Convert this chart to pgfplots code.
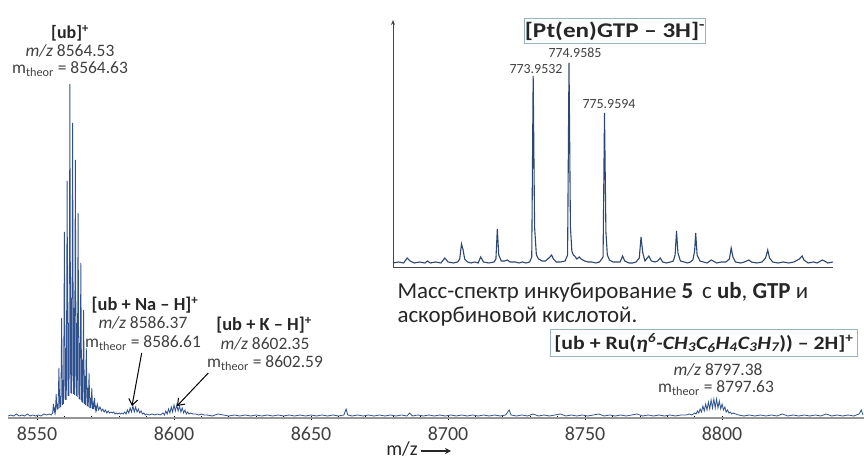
\documentclass[border=0pt]{standalone}
\usepackage{pgfplots}
\pgfplotsset{compat=1.18}
\usetikzlibrary{arrows.meta}
\usepackage{graphicx}
\usepackage{fontspec}
\setmainfont{Carlito}
\definecolor{spec}{RGB}{47,82,143}
\definecolor{specin}{RGB}{45,70,115}
\definecolor{txt}{RGB}{64,64,64}
\definecolor{txtd}{RGB}{38,38,38}
\definecolor{boxc}{RGB}{150,180,196}
\newcommand{\fs}[1]{\fontsize{#1}{#1}\selectfont}
\begin{document}
\begin{tikzpicture}[x=1bp,y=1bp]
\path[use as bounding box] (0,0) rectangle (864,461);
\begin{axis}[at={(8bp,43bp)}, anchor=south west, scale only axis,
  width=856bp, height=418bp,
  xmin=8539.42, xmax=8851.8, ymin=0, ymax=418,
  axis x line*=bottom, axis y line=none,
  xtick={8550,8600,8650,8700,8750,8800}, minor x tick num=4, ytick=\empty,
  x axis line style={draw={rgb,255:red,150;green,150;blue,150}, line width=1.8bp},
  major tick length=4bp, minor tick length=3bp, tick align=center,
  every tick/.style={black, line width=0.7bp},
  /pgf/number format/assume math mode=true,
  xticklabel style={font=\fs{20}, text=txt, /pgf/number format/1000 sep={}, yshift=-3bp},
]
\addplot[spec, line width=0.8bp] coordinates {
(8539.5,2) (8540.5,3) (8541.5,2) (8542.5,4) (8543.5,2) (8544.5,3) (8545.5,2) (8546.5,4) (8547.5,2) (8548.5,3) (8549.5,2) (8550.5,3) (8551.5,2) (8552.5,4) (8553.5,3) (8554.5,4) (8555.2,3)
(8555.7,5) (8556.0,14) (8556.3,6) (8556.5,9) (8556.7,6)
(8557.0,24) (8557.3,8) (8557.5,14) (8557.7,9)
(8558.0,50) (8558.3,10) (8558.5,22) (8558.7,11)
(8559.0,100) (8559.3,13) (8559.5,38) (8559.7,14)
(8560.0,186) (8560.3,18) (8560.5,70) (8560.7,18)
(8561.0,237) (8561.3,22) (8561.5,95) (8561.7,22)
(8562.0,334) (8562.3,25) (8562.5,120) (8562.7,24)
(8563.0,295) (8563.3,24) (8563.5,110) (8563.7,23)
(8564.0,258) (8564.3,22) (8564.5,95) (8564.7,21)
(8565.0,205) (8565.3,19) (8565.5,75) (8565.7,18)
(8566.0,155) (8566.3,16) (8566.5,58) (8566.7,15)
(8567.0,108) (8567.3,14) (8567.5,42) (8567.7,13)
(8568.0,70) (8568.3,12) (8568.5,30) (8568.7,11)
(8569.0,45) (8569.3,10) (8569.5,20) (8569.7,10)
(8570.0,30) (8570.3,9) (8570.5,14) (8570.7,9)
(8571.0,20) (8571.3,8) (8571.5,11) (8571.7,8)
(8572.0,14) (8572.5,8) (8573.0,11) (8573.5,7) (8574.0,9)
(8574.5,6) (8575,8) (8575.5,5) (8576,7) (8576.5,5) (8577,6) (8577.5,5) (8578,6) (8578.5,4) (8579,5) (8579.5,4) (8580,5) (8580.5,4) (8581,5) (8581.5,4)
(8582,6) (8582.5,4) (8583,8) (8583.5,5) (8584,10) (8584.5,6) (8585,12) (8585.5,6) (8586,11) (8586.5,6) (8587,9) (8587.5,5) (8588,7) (8588.5,4) (8589,5) (8589.5,3) (8590,4) (8591,3) (8592,4) (8593,3) (8594,4) (8595,3)
(8596,5) (8596.5,3) (8597,7) (8597.5,4) (8598,9) (8598.5,5) (8599,11) (8599.5,6) (8600,13) (8600.5,7) (8601,13) (8601.5,7) (8602,12) (8602.5,6) (8603,10) (8603.5,5) (8604,8) (8604.5,4) (8605,6) (8605.5,4) (8606,5) (8607,4) (8608,4) (8609,3) (8610,4) (8611,3) (8612,3)
(8614,2) (8616,4) (8618,3) (8620,2) (8622,3) (8624,2) (8626,3) (8628,2) (8630,3) (8632,2) (8634,3) (8636,2) (8638,3) (8640,2) (8642,3) (8644,2) (8646,3) (8648,2) (8650,3) (8652,2) (8654,3) (8656,2) (8658,3) (8660,2) (8662,3) (8662.8,9) (8663.4,3) (8665,2) (8667,3) (8669,2) (8671,3) (8673,2) (8675,3) (8677,2) (8679,3) (8681,2) (8683,3) (8685,2) (8686,5) (8687,2) (8689,3) (8691,2) (8693,3) (8695,2) (8697,3) (8699,2) (8701,3) (8703,2) (8705,3) (8707,2) (8709,3) (8711,2) (8713,3) (8715,2) (8717,3) (8719,2) (8721,3) (8722.3,8) (8723,3) (8725,2) (8727,3) (8729,2) (8731,4) (8733,2) (8735,3) (8737,2) (8739,3) (8741,4) (8743,2) (8745,3) (8747,2) (8749,3) (8751,2) (8753,3) (8755,4) (8757,2) (8759,3) (8761,2) (8763,3) (8765,2) (8767,3) (8769,4) (8771,2) (8773,3) (8775,2) (8777,3) (8779,2) (8781,3) (8783,2) (8785,3) (8787,3) (8788,4) (8789,3)
(8790,5) (8790.5,4) (8791,7) (8791.5,5) (8792,9) (8792.5,6) (8793,12) (8793.5,7) (8794,14) (8794.5,8) (8795,16) (8795.5,9) (8796,18) (8796.5,10) (8797,19) (8797.5,10) (8798,19) (8798.5,10) (8799,17) (8799.5,9) (8800,14) (8800.5,8) (8801,11) (8801.5,6) (8802,8) (8802.5,5) (8803,6) (8803.5,4) (8804,5) (8805,4) (8806,3)
(8808,2) (8810,3) (8812,2) (8814,3) (8816,2) (8818,3) (8820,2) (8822,4) (8824,2) (8826,3) (8828,2) (8830,3) (8832,2) (8834,3) (8836,2) (8838,4) (8840,2) (8842,3) (8844,2) (8846,3) (8848,2) (8850,4) (8850.8,8) (8851.4,3)
};
\end{axis}
\begin{axis}[at={(393bp,194bp)}, anchor=south west, scale only axis,
  width=440bp, height=247bp,
  xmin=770.0, xmax=782.4, ymin=0, ymax=247,
  axis x line*=bottom, axis y line*=left,
  xtick=\empty, ytick=\empty,
  axis line style={draw={rgb,255:red,70;green,70;blue,70}, line width=0.9bp},
  y axis line style={-{Stealth[length=5bp,width=4bp]}},
  clip=false,
]
\addplot[specin, line width=1.1bp] coordinates {
(770.00,4) (770.15,5) (770.30,4) (770.40,9) (770.48,6) (770.60,4) (770.75,5) (770.90,4) (770.97,6) (771.05,4) (771.20,5) (771.35,4) (771.46,9) (771.55,5) (771.70,4) (771.82,5) (771.88,8) (771.93,23) (771.97,18) (772.02,8) (772.10,5) (772.20,4) (772.30,5) (772.40,4) (772.47,10) (772.55,5) (772.70,4) (772.85,5) (772.90,8) (772.94,38) (772.98,12) (773.05,6) (773.15,6) (773.22,7) (773.30,5) (773.45,5) (773.55,4) (773.65,5) (773.75,4) (773.85,5) (773.91,10) (773.95,191) (773.99,40) (774.04,12) (774.10,8) (774.20,6) (774.30,6) (774.42,10) (774.47,12) (774.52,8) (774.60,5) (774.72,5) (774.85,6) (774.92,12) (774.96,204) (775.00,40) (775.04,16) (775.08,12) (775.12,11) (775.18,8) (775.25,10) (775.30,8) (775.40,6) (775.50,5) (775.60,5) (775.72,4) (775.82,5) (775.92,10) (775.96,154) (776.00,35) (776.04,12) (776.10,7) (776.20,5) (776.30,5) (776.40,5) (776.47,11) (776.53,6) (776.65,4) (776.75,4) (776.85,5) (776.94,9) (776.99,30) (777.04,14) (777.10,6) (777.21,11) (777.28,6) (777.38,5) (777.46,6) (777.53,9) (777.60,5) (777.70,4) (777.82,5) (777.90,6) (777.95,12) (777.99,36) (778.03,14) (778.10,6) (778.20,5) (778.30,4) (778.38,5) (778.45,7) (778.50,16) (778.53,34) (778.57,12) (778.65,6) (778.75,5) (778.85,4) (778.97,7) (779.02,6) (779.12,4) (779.25,5) (779.38,5) (779.48,8) (779.53,19) (779.58,10) (779.65,5) (779.80,4) (779.90,5) (780.03,7) (780.10,5) (780.25,4) (780.40,5) (780.50,9) (780.56,17) (780.61,9) (780.70,5) (780.85,4) (781.00,5) (781.15,4) (781.30,5) (781.45,8) (781.53,11) (781.58,7) (781.70,4) (781.85,5) (781.95,4) (782.10,7) (782.16,6) (782.25,4) (782.40,5)
};
\end{axis}
% inset labels
\node[font=\fs{14}, text=txt] at (536,392) {773.9532};
\node[font=\fs{14}, text=txt] at (575,408) {774.9585};
\node[font=\fs{14}, text=txt] at (609,357) {775.9594};
\node[draw=boxc, line width=0.8bp, fill=white, minimum width=180bp, minimum height=25bp, inner sep=0pt, font=\bfseries\fs{21}, text=txtd] at (615,430) {\scalebox{1.2}[1]{[Pt(en)GTP – 3H]\textsuperscript{-}}};
% caption
\node[anchor=west, font=\fs{23}, text=txtd] at (394,169) {Масс-спектр инкубирование \textbf{5}\, с \textbf{ub}, \textbf{GTP} и};
\node[anchor=west, font=\fs{23}, text=txtd] at (394,144) {аскорбиновой кислотой.};
% main annotations
\node[font=\bfseries\fs{18}, text=txtd] at (70,428) {[ub]\textsuperscript{+}};
\node[font=\fs{17.5}, text=txt] at (70,410) {\textit{m/z} 8564.53};
\node[font=\fs{17.5}, text=txt] at (70,392) {m\textsubscript{theor} = 8564.63};
\node[font=\bfseries\fs{18.5}, text=txtd] at (145,156) {[ub + Na – H]\textsuperscript{+}};
\node[font=\fs{17.5}, text=txt] at (143,138) {\textit{m/z} 8586.37};
\node[font=\fs{17.5}, text=txt] at (143,118) {m\textsubscript{theor} = 8586.61};
\node[font=\bfseries\fs{18.5}, text=txtd] at (264,136) {[ub + K – H]\textsuperscript{+}};
\node[font=\fs{17.5}, text=txt] at (265,117) {\textit{m/z} 8602.35};
\node[font=\fs{17.5}, text=txt] at (265,98) {m\textsubscript{theor} = 8602.59};
\draw[black, line width=1bp, -{Straight Barb[length=6bp,width=9bp]}] (141.7,108) -- (132,55);
\draw[black, line width=1bp, -{Straight Barb[length=6bp,width=9bp]}] (208.3,88) -- (177,55);
\node[anchor=west, draw=boxc, line width=0.8bp, fill=white, minimum height=27bp, inner xsep=4bp, inner ysep=0pt, font=\bfseries\fs{19}, text=txtd] at (550,118) {\scalebox{1.15}[1]{[ub + Ru(\textit{η\textsuperscript{6}-CH\textsubscript{3}C\textsubscript{6}H\textsubscript{4}C\textsubscript{3}H\textsubscript{7}})) – 2H]\textsuperscript{+}}};
\node[font=\fs{17.5}, text=txt] at (718,91) {\textit{m/z} 8797.38};
\node[font=\fs{17.5}, text=txt] at (716,73) {m\textsubscript{theor} = 8797.63};
% x label
\node[font=\fs{20}, text=txtd] at (402,12) {m/z};
\draw[txtd, line width=1.4bp, -{Stealth[length=6bp,width=6bp]}] (421,10) -- (451,10);
\end{tikzpicture}
\end{document}
